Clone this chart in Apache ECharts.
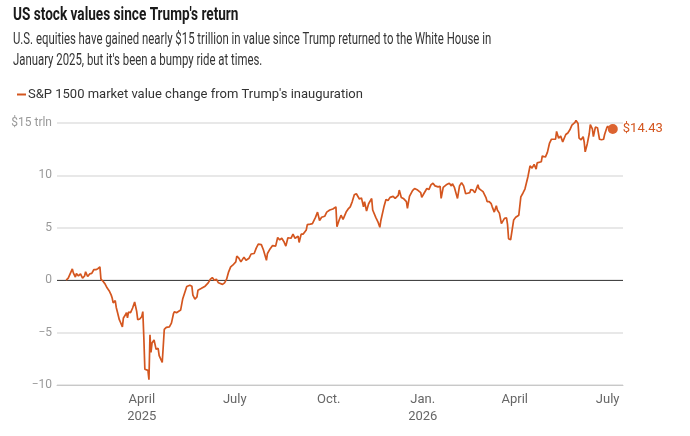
<!DOCTYPE html>
<html>
<head>
<meta charset="utf-8">
<script src="https://cdn.jsdelivr.net/npm/echarts@6/dist/echarts.min.js"></script>
<style>
  html, body { margin: 0; padding: 0; background: #fff; }
  #main { width: 690px; height: 436px; }
</style>
</head>
<body>
<div id="main"></div>
<script>
// S&P 1500 market value change since Jan. 17, 2025 close, $ trillions
var dates = [
  '2025-01-17', '2025-01-19', '2025-01-23', '2025-01-24', '2025-01-26', '2025-01-27', '2025-01-29', '2025-01-31',
  '2025-02-02', '2025-02-04', '2025-02-05', '2025-02-07', '2025-02-09', '2025-02-11', '2025-02-13', '2025-02-15',
  '2025-02-17', '2025-02-19', '2025-02-20', '2025-02-22', '2025-02-24', '2025-02-26', '2025-02-27', '2025-02-28',
  '2025-03-02', '2025-03-03', '2025-03-04', '2025-03-06', '2025-03-07', '2025-03-08', '2025-03-10', '2025-03-11',
  '2025-03-13', '2025-03-14', '2025-03-16', '2025-03-17', '2025-03-18', '2025-03-19', '2025-03-21', '2025-03-23',
  '2025-03-25', '2025-03-27', '2025-03-28', '2025-03-30', '2025-04-01', '2025-04-02', '2025-04-03', '2025-04-04',
  '2025-04-07', '2025-04-08', '2025-04-09', '2025-04-10', '2025-04-11', '2025-04-13', '2025-04-14', '2025-04-15',
  '2025-04-17', '2025-04-18', '2025-04-19', '2025-04-21', '2025-04-22', '2025-04-23', '2025-04-25', '2025-04-28',
  '2025-04-30', '2025-05-02', '2025-05-03', '2025-05-05', '2025-05-09', '2025-05-11', '2025-05-13', '2025-05-15',
  '2025-05-18', '2025-05-20', '2025-05-21', '2025-05-23', '2025-05-25', '2025-05-26', '2025-05-29', '2025-06-02',
  '2025-06-05', '2025-06-07', '2025-06-09', '2025-06-11', '2025-06-13', '2025-06-15', '2025-06-16', '2025-06-19',
  '2025-06-21', '2025-06-23', '2025-06-25', '2025-06-27', '2025-06-29', '2025-07-02', '2025-07-03', '2025-07-05',
  '2025-07-07', '2025-07-08', '2025-07-10', '2025-07-12', '2025-07-15', '2025-07-17', '2025-07-20', '2025-07-22',
  '2025-07-24', '2025-07-27', '2025-07-29', '2025-08-01', '2025-08-02', '2025-08-04', '2025-08-07', '2025-08-10',
  '2025-08-12', '2025-08-14', '2025-08-16', '2025-08-18', '2025-08-20', '2025-08-22', '2025-08-25', '2025-08-27',
  '2025-08-29', '2025-09-01', '2025-09-02', '2025-09-04', '2025-09-06', '2025-09-09', '2025-09-10', '2025-09-13',
  '2025-09-15', '2025-09-18', '2025-09-20', '2025-09-22', '2025-09-24', '2025-09-27', '2025-09-29', '2025-10-02',
  '2025-10-05', '2025-10-08', '2025-10-09', '2025-10-11', '2025-10-13', '2025-10-15', '2025-10-18', '2025-10-20',
  '2025-10-22', '2025-10-24', '2025-10-26', '2025-10-28', '2025-10-31', '2025-11-02', '2025-11-04', '2025-11-05',
  '2025-11-07', '2025-11-09', '2025-11-12', '2025-11-13', '2025-11-16', '2025-11-18', '2025-11-20', '2025-11-21',
  '2025-11-24', '2025-11-26', '2025-11-28', '2025-11-30', '2025-12-03', '2025-12-05', '2025-12-08', '2025-12-09',
  '2025-12-11', '2025-12-13', '2025-12-16', '2025-12-17', '2025-12-19', '2025-12-22', '2025-12-24', '2025-12-27',
  '2025-12-30', '2025-12-31', '2026-01-02', '2026-01-05', '2026-01-07', '2026-01-09', '2026-01-11', '2026-01-13',
  '2026-01-16', '2026-01-18', '2026-01-19', '2026-01-21', '2026-01-24', '2026-01-27', '2026-01-29', '2026-01-30',
  '2026-02-01', '2026-02-02', '2026-02-04', '2026-02-06', '2026-02-08', '2026-02-10', '2026-02-12', '2026-02-14',
  '2026-02-16', '2026-02-17', '2026-02-19', '2026-02-21', '2026-02-24', '2026-02-25', '2026-02-27', '2026-03-01',
  '2026-03-02', '2026-03-04', '2026-03-05', '2026-03-07', '2026-03-09', '2026-03-10', '2026-03-12', '2026-03-14',
  '2026-03-15', '2026-03-17', '2026-03-19', '2026-03-20', '2026-03-22', '2026-03-24', '2026-03-25', '2026-03-26',
  '2026-03-28', '2026-03-29', '2026-03-31', '2026-04-02', '2026-04-05', '2026-04-07', '2026-04-09', '2026-04-11',
  '2026-04-14', '2026-04-16', '2026-04-18', '2026-04-20', '2026-04-22', '2026-04-23', '2026-04-27', '2026-04-28',
  '2026-05-01', '2026-05-03', '2026-05-05', '2026-05-07', '2026-05-08', '2026-05-11', '2026-05-12', '2026-05-14',
  '2026-05-16', '2026-05-18', '2026-05-21', '2026-05-23', '2026-05-25', '2026-05-27', '2026-05-30', '2026-05-31',
  '2026-06-02', '2026-06-03', '2026-06-05', '2026-06-07', '2026-06-08', '2026-06-09', '2026-06-11', '2026-06-13',
  '2026-06-14', '2026-06-16', '2026-06-17', '2026-06-19', '2026-06-21', '2026-06-23', '2026-06-25', '2026-06-27',
  '2026-06-28', '2026-06-30', '2026-07-01', '2026-07-03', '2026-07-06'
];
var values = [
  0, 0.2, 1.08, 0.7, 0.3, 0.63, 0.42, 0.6,
  0.2, 0.4, 0.8, 0.35, 0.6, 0.65, 1.0, 1.0,
  1.1, 1.27, 0.1, -0.1, -0.35, -0.73, -0.57, -1.0,
  -1.4, -1.7, -2.16, -1.94, -2.6, -2.98, -3.77, -3.99,
  -4.46, -3.6, -3.3, -3.1, -3.6, -3.05, -3.1, -2.65,
  -2.08, -2.97, -3.77, -3.7, -3.46, -3.0, -5.5, -8.5,
  -8.6, -9.5, -5.2, -6.9, -6.0, -5.7, -5.8, -6.6,
  -6.5, -7.2, -7.3, -7.85, -6.3, -4.7, -4.5, -4.46,
  -4.1, -3.2, -3.0, -3.1, -2.85, -1.8, -1.2, -0.6,
  -0.48, -0.57, -1.43, -1.8, -1.6, -0.95, -0.8, -0.57,
  -0.25, 0.07, 0.25, 0, 0.1, -0.25, -0.15, -0.4,
  -0.25, 0.1, 0.8, 1.27, 1.43, 1.75, 2.3, 2.1,
  1.75, 1.9, 2.2, 1.9, 2.1, 2.5, 2.55, 3.06,
  3.44, 3.4, 2.9, 1.9, 2.55, 2.9, 3.3, 3.25,
  4.07, 3.85, 4.0, 3.7, 3.25, 4.05, 4.0, 4.4,
  4.0, 4.2, 3.6, 4.4, 4.4, 4.8, 5.3, 5.35,
  5.4, 6.0, 6.5, 5.7, 6.0, 6.1, 6.5, 6.7,
  6.8, 7.0, 5.1, 5.7, 6.2, 5.8, 6.5, 6.8,
  7.0, 7.5, 8.15, 8.25, 7.75, 7.85, 7.0, 7.5,
  6.6, 7.3, 7.8, 6.7, 6.0, 5.6, 5.05, 5.7,
  7.0, 7.7, 7.6, 7.9, 8.0, 7.8, 8.1, 8.6,
  7.9, 7.8, 7.5, 6.85, 8.0, 8.55, 8.75, 8.6,
  8.35, 7.9, 8.25, 8.75, 8.65, 9.1, 9.25, 9.0,
  8.9, 8.95, 7.8, 8.85, 9.1, 9.25, 9.0, 9.2,
  8.85, 8.7, 7.8, 9.0, 9.3, 9.0, 8.25, 8.3,
  8.35, 8.65, 8.6, 8.35, 9.1, 8.75, 8.6, 8.45,
  8.5, 7.85, 7.5, 7.5, 7.3, 7.0, 6.5, 7.1,
  6.7, 6.4, 5.4, 5.5, 5.9, 5.95, 5.3, 3.95,
  3.85, 3.8, 5.75, 6.0, 6.2, 7.95, 8.3, 8.7,
  9.9, 10.9, 10.7, 11.05, 10.6, 11.2, 11.3, 11.85,
  11.75, 12.2, 13.05, 13.45, 13.3, 13.45, 14.2, 13.55,
  13.75, 13.2, 13.9, 14.05, 14.35, 14.8, 15.05, 15.25,
  14.95, 13.55, 13.4, 13.7, 13.2, 12.25, 13.0, 14.0,
  14.85, 14.45, 13.7, 14.6, 14.55, 13.45, 13.4, 13.45,
  13.9, 14.5, 14.7, 14.4, 14.43
];
var monthTicks = ['2025-04-01', '2025-07-01', '2025-10-01', '2026-01-01', '2026-04-01', '2026-07-01'];
var monthNames = { 0: 'Jan.', 3: 'April', 6: 'July', 9: 'Oct.' };
var yTicks = [-10, -5, 0, 5, 10, 15];

var orange = '#d4561f';
var font = 'Roboto, sans-serif';

function toTime(s) {
  var p = s.split('-');
  return new Date(+p[0], +p[1] - 1, +p[2]).getTime();
}

var lineData = dates.map(function (d, i) { return [toTime(d), values[i]]; });
var last = lineData[lineData.length - 1];

var myChart = echarts.init(document.getElementById('main'));
var option = {
  animation: false,
  textStyle: { fontFamily: font },
  // 标题用 graphic 文字，横向压缩模拟窄字体
  graphic: [{
    type: 'text',
    x: 13,
    y: 15,
    scaleX: 0.756,
    style: {
      text: "US stock values since Trump's return",
      font: 'bold 18px Roboto, sans-serif',
      fill: '#1a1a1a',
      verticalAlign: 'middle'
    }
  }, {
    type: 'text',
    x: 13,
    y: 29,
    scaleX: 0.71,
    style: {
      text: 'U.S. equities have gained nearly $15 trillion in value since Trump returned to the White House in\nJanuary 2025, but it\'s been a bumpy ride at times.',
      font: '16px Roboto, sans-serif',
      fill: '#333',
      lineHeight: 21,
      verticalAlign: 'top'
    }
  }],
  legend: {
    left: 12,
    top: 83,
    icon: 'rect',
    itemWidth: 9,
    itemHeight: 2,
    itemGap: 4,
    textStyle: { fontSize: 13, color: '#333', padding: [0, 0, 0, -3] },
    data: ["S&P 1500 market value change from Trump's inauguration"]
  },
  grid: {
    left: 57,
    right: 67,
    top: 123,
    bottom: 51
  },
  // 日期轴用数值轴 + customValues，刻度只在季度月初
  xAxis: {
    type: 'value',
    min: toTime('2025-01-08'),
    max: toTime('2026-07-16'),
    axisLine: { show: true, onZero: false, lineStyle: { color: '#c8c8c8', width: 1 } },
    axisTick: { show: false },
    splitLine: { show: false },
    axisLabel: {
      customValues: monthTicks.map(toTime),
      color: '#666',
      fontSize: 13,
      lineHeight: 17,
      margin: 6,
      formatter: function (v) {
        var d = new Date(v);
        var m = d.getMonth();
        var y = d.getFullYear();
        if (m === 0 || (y === 2025 && m === 3)) return monthNames[m] + '\n' + y;
        return monthNames[m];
      }
    }
  },
  yAxis: {
    type: 'value',
    min: -10,
    max: 15,
    interval: 5,
    axisLine: { show: false },
    axisTick: { show: false },
    axisLabel: {
      color: '#999',
      fontSize: 12,
      margin: 5,
      formatter: function (v) {
        if (v === yTicks[yTicks.length - 1]) return '$' + v + ' trln';
        return v < 0 ? '\u2212' + Math.abs(v) : String(v);
      }
    },
    splitLine: { lineStyle: { color: '#e0e0e0', width: 1.5 } }
  },
  series: [{
    name: "S&P 1500 market value change from Trump's inauguration",
    type: 'line',
    data: lineData,
    showSymbol: false,
    symbol: 'none',
    clip: false,
    color: orange,
    lineStyle: { color: orange, width: 1.7 },
    z: 3,
    markLine: {
      silent: true,
      symbol: 'none',
      label: { show: false },
      lineStyle: { color: '#444', width: 1, type: 'solid' },
      data: [{ yAxis: 0 }],
      z: 1
    }
  }, {
    type: 'scatter',
    data: [last],
    symbolSize: 10,
    itemStyle: { color: '#dc6330', opacity: 1 },
    label: {
      show: true,
      position: 'right',
      distance: 5,
      color: orange,
      fontSize: 13,
      formatter: function (p) { return '$' + p.value[1].toFixed(2); }
    },
    z: 4
  }]
};

myChart.setOption(option);
</script>
</body>
</html>
